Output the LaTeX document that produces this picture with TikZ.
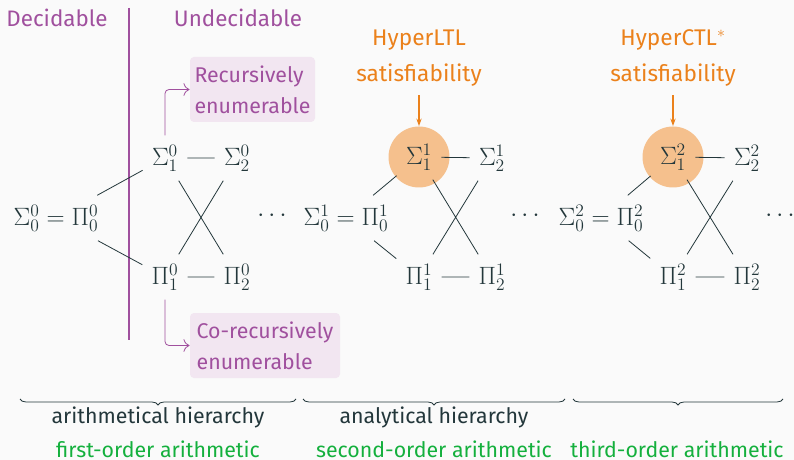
\RequirePackage{fix-cm}
\documentclass[tikz,border=0pt]{standalone}
\usepackage[no-math]{fontspec}
\setmainfont{Fira Sans}
\usetikzlibrary{arrows.meta, decorations.pathreplacing}

\definecolor{fondo}{HTML}{FAFAFA}
\definecolor{oscuro}{HTML}{23373B}
\definecolor{morado}{HTML}{A0509E}
\definecolor{naranja}{HTML}{EB811B}
\definecolor{verde}{HTML}{14B03D}

\begin{document}
\begin{tikzpicture}[x=0.75pt, y=-0.75pt, line width=0.6pt, color=oscuro,
    mat/.style={inner sep=6.75pt, font=\fontsize{18.8}{22}\selectfont},
    txt/.style={font=\fontsize{16}{22}\selectfont},
    caja/.style={fill=morado!14, text=morado, rounded corners=3pt,
      align=left, font=\fontsize{16}{23.25}\selectfont, text depth=0pt},
    circ/.style={circle, fill=naranja!50, minimum size=45.75pt, inner sep=0pt},
    llave/.style={decorate, decoration={brace, mirror, amplitude=4.5pt}},
    flm/.style={morado, -{To[length=1.6mm]}, rounded corners=3pt},
    fln/.style={naranja, -{Stealth[length=2mm, width=1.4mm]}, line width=0.8pt}]
  % fondo y margenes
  \fill[fondo] (0,0) rectangle (794,460);
  \useasboundingbox (0,0) rectangle (794,460);
  % decidible / indecidible
  \node[txt, text=morado, anchor=base, font=\fontsize{16.8}{22}\selectfont] (dec) at (57,27) {Decidable};
  \node[txt, text=morado, anchor=base, font=\fontsize{16.8}{22}\selectfont] (undec) at (238,27) {Undecidable};
  \draw[morado, line width=1.5pt] (129,8) -- (129,340);
  % jerarquia aritmetica
  \node[mat] (s00) at (56,218) {$\Sigma^0_0 = \Pi^0_0$};
  \node[mat] (s10) at (165,158) {$\Sigma^0_1$};
  \node[mat] (s20) at (237,158) {$\Sigma^0_2$};
  \node[mat] (p10) at (165,277) {$\Pi^0_1$};
  \node[mat] (p20) at (237,277) {$\Pi^0_2$};
  \node[mat] (d0) at (272,216) {$\cdots$};
  \draw (s00) -- (s10) -- (s20) (s00) -- (p10) -- (p20);
  \draw (s10) -- (p20) (p10) -- (s20);
  % cajas (co-)recursivamente enumerables
  \node[caja, minimum width=93.75pt, minimum height=48.75pt] (re) at (252.5,89.5)
    {Recursively\\enumerable};
  \node[caja, minimum width=112.5pt, minimum height=48.75pt] (cre) at (265,345.5)
    {Co-recursively\\enumerable};
  \draw[flm] (s10.north) |- (re.west);
  \draw[flm] (p10.south) |- (cre.west);
  % jerarquia analitica
  \node[circ] (c11) at (419,157) {};
  \node[mat] (s01) at (346,218) {$\Sigma^1_0 = \Pi^1_0$};
  \node[mat] (s11) at (419,157) {$\Sigma^1_1$};
  \node[mat] (s21) at (492,158) {$\Sigma^1_2$};
  \node[mat] (p11) at (419,277) {$\Pi^1_1$};
  \node[mat] (p21) at (492,277) {$\Pi^1_2$};
  \node[mat] (d1) at (525,216) {$\cdots$};
  \draw (s01) -- (s11) -- (s21) (s01) -- (p11) -- (p21);
  \draw (s11) -- (p21) (p11) -- (s21);
  \node[text=naranja, align=center, font=\fontsize{17}{27}\selectfont] (hltl) at (419,58)
    {HyperLTL\\satisfiability};
  \draw[fln, shorten <=3pt] (hltl) -- (c11);
  % tercer orden
  \node[circ] (c12) at (673,157) {};
  \node[mat] (s02) at (601,218) {$\Sigma^2_0 = \Pi^2_0$};
  \node[mat] (s12) at (673,157) {$\Sigma^2_1$};
  \node[mat] (s22) at (747,158) {$\Sigma^2_2$};
  \node[mat] (p12) at (673,277) {$\Pi^2_1$};
  \node[mat] (p22) at (747,277) {$\Pi^2_2$};
  \node[mat] (d2) at (780,216) {$\cdots$};
  \draw (s02) -- (s12) -- (s22) (s02) -- (p12) -- (p22);
  \draw (s12) -- (p22) (p12) -- (s22);
  \node[text=naranja, align=center, font=\fontsize{17}{27}\selectfont] (hctl) at (673,58)
    {HyperCTL$^*$\\satisfiability};
  \draw[fln, shorten <=3pt] (hctl) -- (c12);
  % llaves y etiquetas
  \draw[llave] (20,399) -- (296,399);
  \draw[llave] (303,399) -- (565,399);
  \draw[llave] (573,399) -- (783,399);
  \node[txt, anchor=base] (arit) at (158,423) {arithmetical hierarchy};
  \node[txt, anchor=base] (anal) at (434,423) {analytical hierarchy};
  \node[txt, text=verde, anchor=base] (fo) at (158,457) {first-order arithmetic};
  \node[txt, text=verde, anchor=base] (so) at (434,457) {second-order arithmetic};
  \node[txt, text=verde, anchor=base] (to) at (677,457) {third-order arithmetic};
\end{tikzpicture}
\end{document}
